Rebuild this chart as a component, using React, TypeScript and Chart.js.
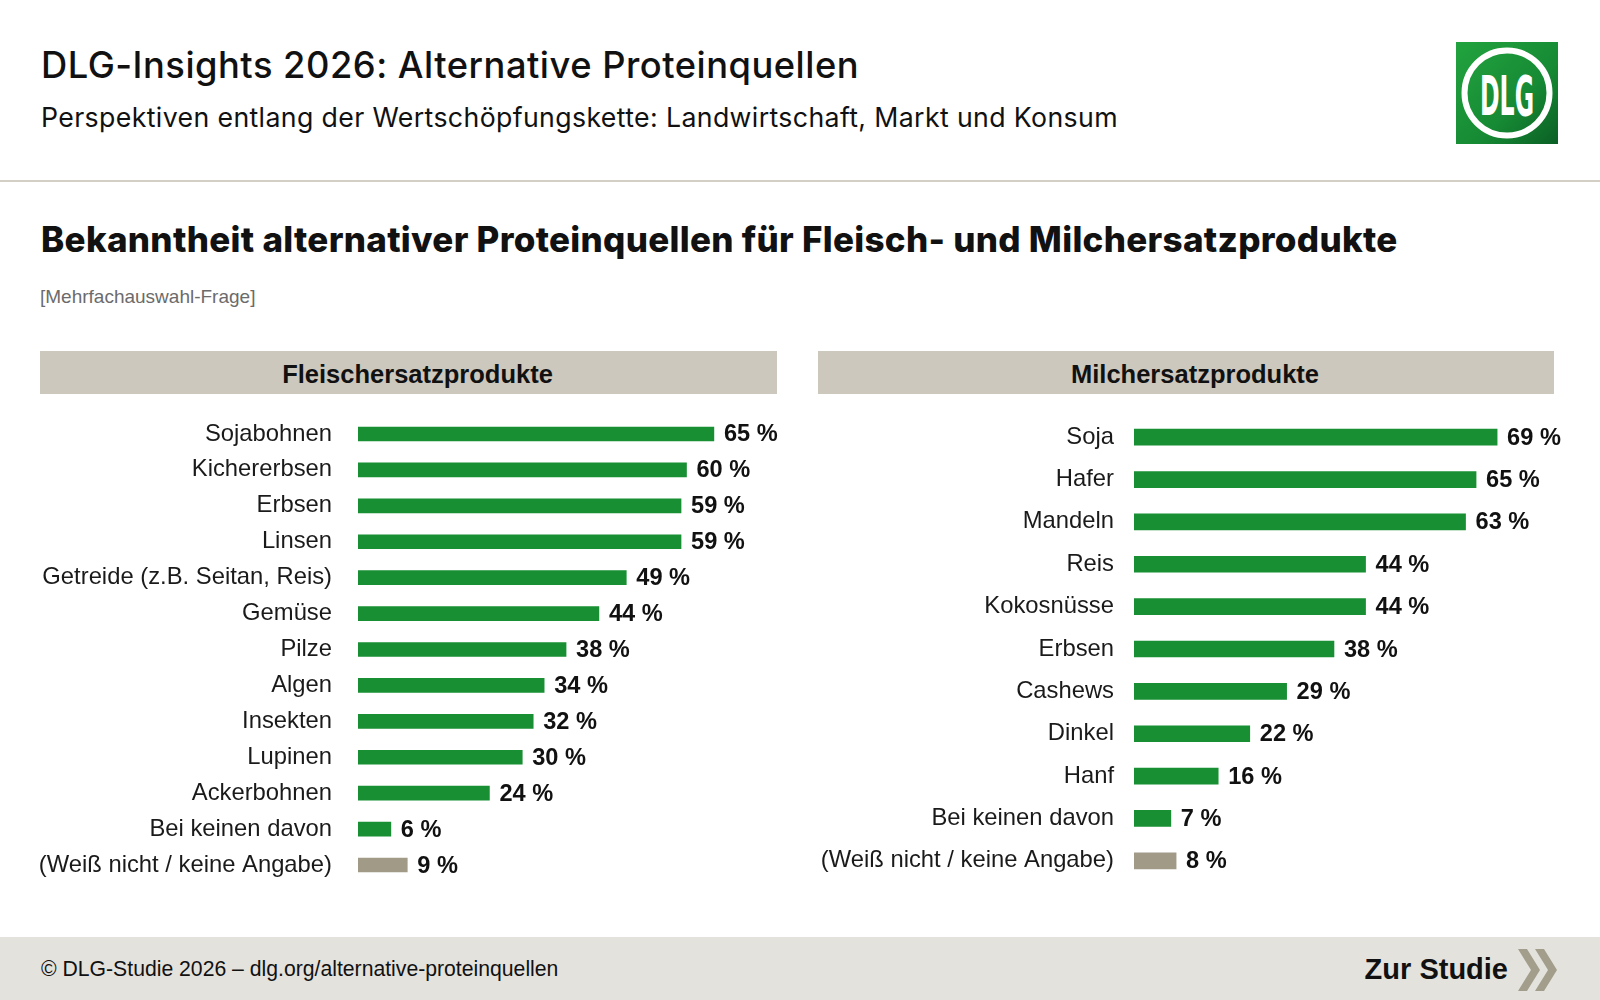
import React, { useEffect, useRef } from "react";
import { Chart, registerables } from "chart.js";

Chart.register(...registerables);

const meatCategories = [
  "Sojabohnen",
  "Kichererbsen",
  "Erbsen",
  "Linsen",
  "Getreide (z.B. Seitan, Reis)",
  "Gemüse",
  "Pilze",
  "Algen",
  "Insekten",
  "Lupinen",
  "Ackerbohnen",
  "Bei keinen davon",
  "(Weiß nicht / keine Angabe)",
];
const meatValues = [65, 60, 59, 59, 49, 44, 38, 34, 32, 30, 24, 6, 9];

const dairyCategories = [
  "Soja",
  "Hafer",
  "Mandeln",
  "Reis",
  "Kokosnüsse",
  "Erbsen",
  "Cashews",
  "Dinkel",
  "Hanf",
  "Bei keinen davon",
  "(Weiß nicht / keine Angabe)",
];
const dairyValues = [69, 65, 63, 44, 44, 38, 29, 22, 16, 7, 8];

const GREEN = "#178f32";
const GRAY_BAR = "#a09a87";
const SANS = '"Liberation Sans", Arial, Helvetica, sans-serif';
const HEAD = 'Inter, "Noto Sans", sans-serif';

const valueLabelPlugin = {
  id: "valueLabels",
  afterDatasetsDraw(chart: any) {
    const { ctx } = chart;
    const meta = chart.getDatasetMeta(0);
    const data = chart.data.datasets[0].data as number[];
    ctx.save();
    ctx.font = `bold 23.6px ${SANS}`;
    ctx.fillStyle = "#111111";
    ctx.textAlign = "left";
    ctx.textBaseline = "middle";
    meta.data.forEach((bar: any, i: number) => {
      ctx.fillText(`${data[i]} %`, bar.x + 10, bar.y + 1);
    });
    ctx.restore();
  },
};

type BarProps = {
  categories: string[];
  values: number[];
  left: number;
  top: number;
  width: number;
  height: number;
  axisWidth: number;
  tickPad: number;
  padRight: number;
  thickness: number;
};

function BarChart(p: BarProps) {
  const ref = useRef<HTMLCanvasElement | null>(null);
  useEffect(() => {
    if (!ref.current) return;
    const n = p.categories.length;
    const colors = p.categories.map((_, i) => (i === n - 1 ? GRAY_BAR : GREEN));
    const chart = new Chart(ref.current, {
      type: "bar",
      data: {
        labels: p.categories,
        datasets: [
          {
            data: p.values,
            backgroundColor: colors,
            borderWidth: 0,
            barThickness: p.thickness,
          },
        ],
      },
      options: {
        indexAxis: "y",
        animation: false,
        responsive: false,
        maintainAspectRatio: false,
        layout: { padding: { left: 0, right: p.padRight, top: 0, bottom: 0 } },
        plugins: { legend: { display: false }, tooltip: { enabled: false } },
        scales: {
          x: { display: false, min: 0, max: 80 },
          y: {
            grid: { display: false, drawTicks: false },
            border: { display: false },
            ticks: {
              autoSkip: false,
              padding: p.tickPad,
              color: "#1a1a1a",
              font: { family: SANS, size: 23.8 },
            },
            afterFit: (scale: any) => {
              scale.width = p.axisWidth;
              scale.paddingTop = 0;
              scale.paddingBottom = 0;
            },
          },
        },
      },
      plugins: [valueLabelPlugin],
    });
    return () => chart.destroy();
  }, []);
  return (
    <canvas
      ref={ref}
      width={p.width}
      height={p.height}
      style={{ position: "absolute", left: p.left, top: p.top, width: p.width, height: p.height }}
    />
  );
}

function Text(props: {
  x: number;
  cy: number;
  h: number;
  size: number;
  weight?: number | string;
  family: string;
  color?: string;
  children: React.ReactNode;
  width?: number;
  align?: "left" | "center" | "right";
  letterSpacing?: number;
}) {
  return (
    <div
      style={{
        position: "absolute",
        left: props.x,
        top: props.cy - props.h / 2,
        height: props.h,
        lineHeight: `${props.h}px`,
        fontSize: props.size,
        fontWeight: props.weight ?? 400,
        fontFamily: props.family,
        color: props.color ?? "#111",
        whiteSpace: "nowrap",
        width: props.width,
        textAlign: props.align ?? "left",
        letterSpacing: props.letterSpacing ?? 0,
      }}
    >
      {props.children}
    </div>
  );
}

function Logo() {
  return (
    <svg
      width={102}
      height={102}
      viewBox="0 0 102 102"
      style={{ position: "absolute", left: 1456, top: 42 }}
    >
      <defs>
        <linearGradient id="lg" x1="0" y1="0" x2="1" y2="1">
          <stop offset="0" stopColor="#22a33f" />
          <stop offset="0.6" stopColor="#168a34" />
          <stop offset="1" stopColor="#0b5f25" />
        </linearGradient>
      </defs>
      <rect x={0} y={0} width={102} height={102} fill="url(#lg)" />
      <circle cx={51} cy={51} r={42.5} fill="none" stroke="#fff" strokeWidth={6} />
      <text
        x={51}
        y={73}
        textAnchor="middle"
        fill="#fff"
        fontFamily='"DejaVu Sans Condensed", "DejaVu Sans", sans-serif'
        fontWeight="bold"
        fontSize={56}
        textLength={54}
        lengthAdjust="spacingAndGlyphs"
      >
        DLG
      </text>
    </svg>
  );
}

function Chevrons() {
  return (
    <svg width={42} height={44} viewBox="0 0 42 44" style={{ position: "absolute", left: 1517, top: 948 }}>
      <polygon points="1,1 10,1 23,22 10,43 1,43 14,22" fill="#a39e8b" />
      <polygon points="18,1 27,1 40,22 27,43 18,43 31,22" fill="#a39e8b" />
    </svg>
  );
}

export default function App() {
  return (
    <div
      style={{
        position: "absolute",
        left: 0,
        top: 0,
        width: 1600,
        height: 1000,
        background: "#ffffff",
        overflow: "hidden",
      }}
    >
      <Text x={41} cy={65} h={44} size={36.3} weight={520} family={HEAD} letterSpacing={0.5}>
        DLG-Insights 2026: Alternative Proteinquellen
      </Text>
      <Text x={41} cy={117} h={36} size={26.7} weight={400} family={HEAD} letterSpacing={0.37}>
        Perspektiven entlang der Wertschöpfungskette: Landwirtschaft, Markt und Konsum
      </Text>
      <Logo />
      <div style={{ position: "absolute", left: 0, top: 180, width: 1600, height: 2, background: "#d3cfc4" }} />

      <Text x={41} cy={239} h={44} size={35} weight={800} family={HEAD} letterSpacing={0.3}>
        Bekanntheit alternativer Proteinquellen für Fleisch- und Milchersatzprodukte
      </Text>
      <Text x={40} cy={297} h={26} size={19} family={SANS} color="#6b6b6b">
        [Mehrfachauswahl-Frage]
      </Text>

      <div style={{ position: "absolute", left: 40, top: 351, width: 737, height: 43, background: "#ccc8bd" }} />
      <Text x={49} cy={374} h={43} size={25.5} weight={700} family={SANS} width={737} align="center">
        Fleischersatzprodukte
      </Text>
      <div style={{ position: "absolute", left: 818, top: 351, width: 736, height: 43, background: "#ccc8bd" }} />
      <Text x={827} cy={374} h={43} size={25.5} weight={700} family={SANS} width={736} align="center">
        Milchersatzprodukte
      </Text>

      <BarChart
        categories={meatCategories}
        values={meatValues}
        left={0}
        top={416}
        width={800}
        height={467}
        axisWidth={358}
        tickPad={26}
        padRight={4}
        thickness={14}
      />
      <BarChart
        categories={dairyCategories}
        values={dairyValues}
        left={800}
        top={416}
        width={800}
        height={466}
        axisWidth={334}
        tickPad={20}
        padRight={45}
        thickness={16}
      />

      <div style={{ position: "absolute", left: 0, top: 937, width: 1600, height: 63, background: "#e4e2dd" }} />
      <Text x={41} cy={969} h={30} size={21.2} family={SANS} color="#111">
        © DLG-Studie 2026 – dlg.org/alternative-proteinquellen
      </Text>
      <Text x={1208} cy={969} h={40} size={29} weight={700} family={SANS} width={300} align="right">
        Zur Studie
      </Text>
      <Chevrons />
    </div>
  );
}
